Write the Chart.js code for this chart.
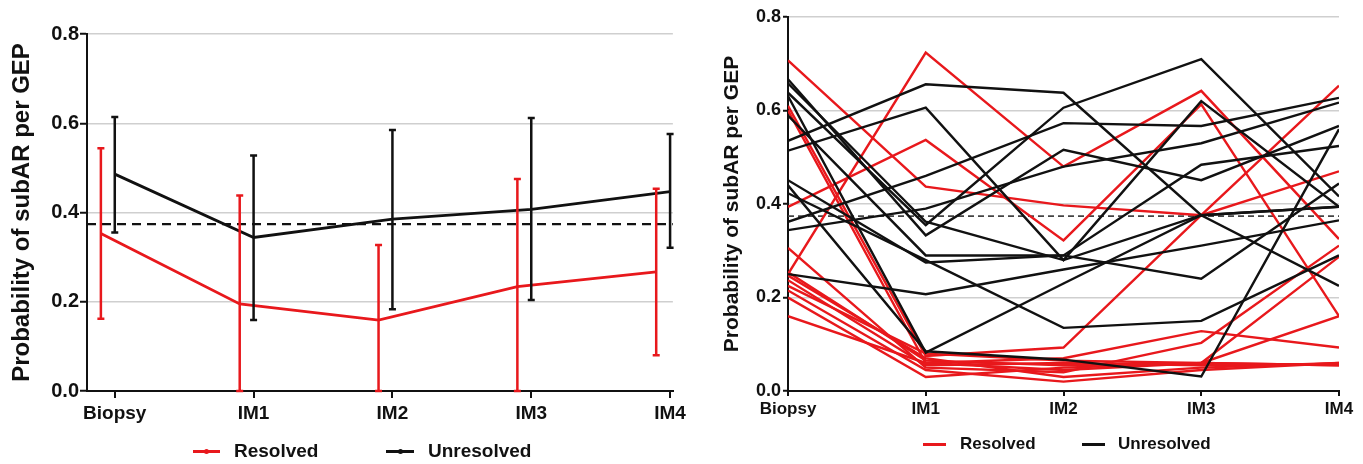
<!DOCTYPE html>
<html>
<head>
<meta charset="utf-8">
<script src="https://cdn.jsdelivr.net/npm/chart.js@4.4.1/dist/chart.umd.min.js"></script>
<style>
  html, body { margin: 0; padding: 0; background: #fff; }
  body { width: 1363px; height: 464px; position: relative; overflow: hidden; font-family: 'Liberation Sans', Arial, sans-serif; }
  .panel { position: absolute; top: 0; height: 464px; }
  .lg { position: absolute; font-weight: bold; color: #111; white-space: nowrap; }
  .sw { position: absolute; height: 3px; }
  .dot { position: absolute; width: 5px; height: 5px; border-radius: 50%; }
</style>
</head>
<body>
<div class="panel" style="left:0; width:690px;"><canvas id="meanChart"></canvas></div>
<div class="panel" style="left:690px; width:673px;"><canvas id="patientChart"></canvas></div>

<!-- legends -->
<div class="sw" style="left:193px; top:450px; width:27px; background:#e8181c;"></div>
<div class="dot" style="left:204px; top:449px; background:#e8181c;"></div>
<div class="lg" style="left:234px; top:440px; font-size:19px; line-height:22px;">Resolved</div>
<div class="sw" style="left:386px; top:450px; width:28px; background:#111;"></div>
<div class="dot" style="left:398px; top:449px; background:#111;"></div>
<div class="lg" style="left:428px; top:440px; font-size:19px; line-height:22px;">Unresolved</div>

<div class="sw" style="left:923px; top:443px; width:23px; background:#e8181c;"></div>
<div class="lg" style="left:960px; top:434px; font-size:17px; line-height:20px;">Resolved</div>
<div class="sw" style="left:1082px; top:443px; width:23px; background:#111;"></div>
<div class="lg" style="left:1118px; top:434px; font-size:17px; line-height:20px;">Unresolved</div>

<script>
const categories = ['Biopsy', 'IM1', 'IM2', 'IM3', 'IM4'];
const yTicks = [0, 0.2, 0.4, 0.6, 0.8];
const threshold = 0.374;

// left panel: group means with error bars
const resolvedMean = [0.353, 0.195, 0.159, 0.234, 0.267];
const resolvedLow = [0.162, 0, 0, 0, 0.08];
const resolvedHigh = [0.544, 0.438, 0.327, 0.475, 0.453];
const unresolvedMean = [0.486, 0.344, 0.385, 0.407, 0.447];
const unresolvedLow = [0.355, 0.159, 0.183, 0.204, 0.321];
const unresolvedHigh = [0.614, 0.528, 0.585, 0.612, 0.576];

// right panel: one row per patient
const resolvedPatients = [
    [0.25, 0.724, 0.48, 0.642, 0.325],
    [0.394, 0.537, 0.322, 0.613, 0.16],
    [0.707, 0.437, 0.397, 0.376, 0.47],
    [0.61, 0.075, 0.093, 0.376, 0.653],
    [0.6, 0.06, 0.07, 0.128, 0.093],
    [0.306, 0.05, 0.04, 0.103, 0.311],
    [0.254, 0.065, 0.055, 0.06, 0.287],
    [0.247, 0.07, 0.03, 0.05, 0.06],
    [0.237, 0.055, 0.06, 0.055, 0.058],
    [0.225, 0.08, 0.065, 0.06, 0.055],
    [0.215, 0.045, 0.02, 0.045, 0.06],
    [0.2, 0.03, 0.05, 0.06, 0.16],
    [0.16, 0.06, 0.045, 0.06, 0.055]
];
const unresolvedPatients = [
    [0.535, 0.656, 0.638, 0.376, 0.225],
    [0.514, 0.606, 0.28, 0.62, 0.394],
    [0.638, 0.355, 0.606, 0.71, 0.416],
    [0.362, 0.46, 0.573, 0.567, 0.627],
    [0.667, 0.333, 0.516, 0.451, 0.567],
    [0.344, 0.39, 0.48, 0.53, 0.617],
    [0.451, 0.275, 0.29, 0.484, 0.524],
    [0.589, 0.29, 0.29, 0.24, 0.444],
    [0.423, 0.28, 0.135, 0.15, 0.29],
    [0.25, 0.207, 0.26, 0.311, 0.365],
    [0.631, 0.082, 0.23, 0.376, 0.394],
    [0.44, 0.085, 0.067, 0.031, 0.56],
    [0.658, 0.362, 0.28, 0.376, 0.394]
];

const RED = '#e8181c';
const BLACK = '#111111';
const FONT = "'Liberation Sans', Arial, sans-serif";

const errorBars = {
    id: 'errorBars',
    afterDatasetsDraw(chart) {
        const { ctx, scales: { x, y } } = chart;
        chart.data.datasets.forEach(ds => {
            if (!ds.errLow) return;
            ctx.save();
            ctx.strokeStyle = ds.borderColor;
            ctx.lineWidth = 2.5;
            ds.data.forEach((pt, j) => {
                const px = x.getPixelForValue(pt.x);
                const top = y.getPixelForValue(ds.errHigh[j]);
                const bot = y.getPixelForValue(ds.errLow[j]);
                ctx.beginPath();
                ctx.moveTo(px, top); ctx.lineTo(px, bot);
                ctx.moveTo(px - 3.5, top); ctx.lineTo(px + 3.5, top);
                ctx.moveTo(px - 3.5, bot); ctx.lineTo(px + 3.5, bot);
                ctx.stroke();
            });
            ctx.restore();
        });
    }
};

function points(values, shift) {
    return values.map((v, i) => ({ x: i + shift, y: v }));
}

function makeOptions(o) {
    return {
        responsive: true,
        maintainAspectRatio: false,
        animation: false,
        layout: { padding: { left: o.padLeft, right: o.padRight, top: o.padTop, bottom: o.padBottom } },
        plugins: { legend: { display: false }, tooltip: { enabled: false } },
        elements: { point: { radius: 0 }, line: { tension: 0 } },
        scales: {
            x: {
                type: 'linear',
                min: o.xMin,
                max: o.xMax,
                afterBuildTicks: s => { s.ticks = categories.map((c, i) => ({ value: i })); },
                afterFit: s => { s.height = 35; },
                ticks: {
                    callback: v => categories[v],
                    color: '#111',
                    font: { family: FONT, size: o.xFont, weight: 'bold' },
                    padding: o.xPad,
                    maxRotation: 0
                },
                grid: { drawOnChartArea: false, drawTicks: true, tickLength: o.tick, color: '#111', lineWidth: 2 },
                border: { color: '#111', width: 2 }
            },
            y: {
                min: 0,
                max: 0.8,
                afterBuildTicks: s => { s.ticks = yTicks.map(v => ({ value: v })); },
                afterFit: s => { s.width = o.yWidth; },
                ticks: {
                    callback: v => v.toFixed(1),
                    color: '#111',
                    font: { family: FONT, size: o.yFont, weight: 'bold' },
                    padding: o.yPad
                },
                grid: { color: '#cfcfcf', lineWidth: 1.5, tickColor: '#111', tickLength: o.tick, tickWidth: 2 },
                border: { color: '#111', width: 2 },
                title: {
                    display: true,
                    text: 'Probability of subAR per GEP',
                    color: '#111',
                    font: { family: FONT, size: o.titleFont, weight: 'bold' }
                }
            }
        }
    };
}

new Chart(document.getElementById('meanChart'), {
    type: 'line',
    data: {
        datasets: [
            {
                label: 'Unresolved',
                data: points(unresolvedMean, 0),
                borderColor: BLACK,
                borderWidth: 2.8,
                errLow: unresolvedLow,
                errHigh: unresolvedHigh
            },
            {
                label: 'Resolved',
                data: points(resolvedMean, -0.1),
                borderColor: RED,
                borderWidth: 2.8,
                errLow: resolvedLow,
                errHigh: resolvedHigh
            },
            {
                label: 'threshold',
                data: [{ x: -0.2, y: threshold }, { x: 4.02, y: threshold }],
                borderColor: BLACK,
                borderWidth: 2.2,
                borderDash: [9, 6]
            }
        ]
    },
    options: makeOptions({
        padLeft: 4, padRight: 16, padTop: 34, padBottom: 38,
        xMin: -0.2, xMax: 4.02, yWidth: 83,
        xFont: 19, yFont: 20, titleFont: 24,
        xPad: 4, yPad: 1, tick: 7
    }),
    plugins: [errorBars]
});

const patientSets = [
    ...unresolvedPatients.map(p => ({ label: 'Unresolved', data: points(p, 0), borderColor: BLACK, borderWidth: 2.4 })),
    ...resolvedPatients.map(p => ({ label: 'Resolved', data: points(p, 0), borderColor: RED, borderWidth: 2.4 })),
    {
        label: 'threshold',
        data: [{ x: 0, y: threshold }, { x: 4, y: threshold }],
        borderColor: '#444',
        borderWidth: 1.6,
        borderDash: [6, 4]
    }
];

new Chart(document.getElementById('patientChart'), {
    type: 'line',
    data: { datasets: patientSets },
    options: makeOptions({
        padLeft: 26, padRight: 24, padTop: 17, padBottom: 38,
        xMin: 0, xMax: 4, yWidth: 72,
        xFont: 17, yFont: 18, titleFont: 21,
        xPad: 3, yPad: 2, tick: 5
    })
});
</script>
</body>
</html>
